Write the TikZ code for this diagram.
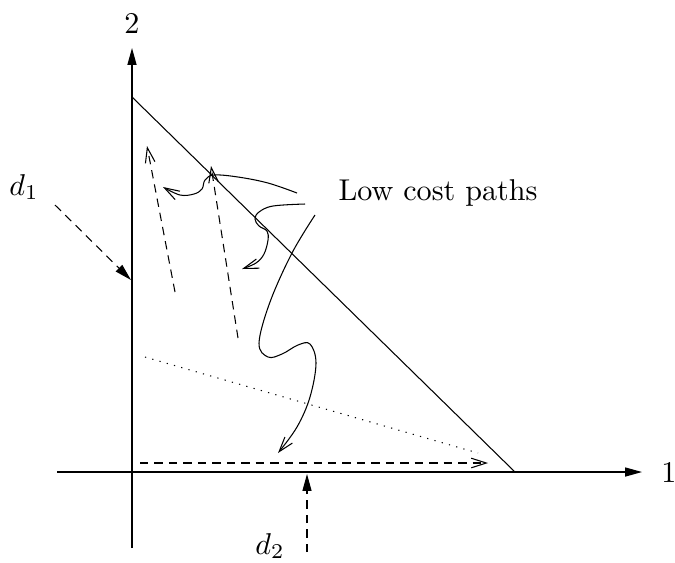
\documentclass[tikz,border=0pt]{standalone}
\usetikzlibrary{arrows.meta}
\begin{document}
\begin{tikzpicture}[x=0.332pt,y=-0.332pt,
  axis/.style={line width=0.4pt,-{Triangle[length=5.6pt,width=3pt]}},
  plain/.style={line width=0.35pt},
  dsh/.style={line width=0.35pt,dash pattern=on 2.8pt off 2pt},
  dot/.style={line width=0.35pt,dash pattern=on 0.4pt off 2.1pt},
  openhead/.style={-{Straight Barb[length=5pt,width=3.2pt,line width=0.35pt]}},
  filledhead/.style={-{Triangle[length=5.6pt,width=3pt]}},
  lbl/.style={inner sep=0pt}]
\useasboundingbox (0,0) rectangle (675,562);
% axes
\coordinate (xs) at (57,472);
\coordinate (xe) at (642,472);
\coordinate (ys) at (132,548);
\coordinate (ye) at (132,48);
\draw[axis] (xs) -- (xe);
\draw[axis] (ys) -- (ye);
\node[lbl] (one) at (669,472) {1};
\node[lbl] (two) at (132,23) {2};
% hypotenuse
\coordinate (ht) at (132,97);
\coordinate (hb) at (515,472);
\draw[plain] (ht) -- (hb);
% disturbances
\node[lbl] (d1) at (24,187) {$d_1$};
\coordinate (d1s) at (55,205);
\coordinate (d1e) at (131,280);
\draw[dsh,filledhead] (d1s) -- (d1e);
\node[lbl] (d2) at (270,546) {$d_2$};
\coordinate (d2s) at (307,552);
\coordinate (d2e) at (307,474);
\draw[dsh,filledhead] (d2s) -- (d2e);
% dotted line
\coordinate (dts) at (145,357);
\coordinate (dte) at (478,453);
\draw[dot] (dts) -- (dte);
% dashed arrows
\coordinate (hs) at (140,463);
\coordinate (he) at (488,463);
\draw[dsh,openhead] (hs) -- (he);
\coordinate (a1s) at (175,292);
\coordinate (a1e) at (147,146);
\draw[dsh,openhead] (a1s) -- (a1e);
\coordinate (a2s) at (238,338);
\coordinate (a2e) at (211,166);
\draw[dsh,openhead] (a2s) -- (a2e);
% low cost paths
\node[lbl] (lcp) at (438,193) {Low cost paths};
\draw[plain,openhead] plot[smooth,tension=0.6] coordinates {(297,193) (268,183) (238,177) (214,175) (205,180) (202,189) (194,194) (180,195) (163,187)};
\draw[plain,openhead] plot[smooth,tension=0.6] coordinates {(305,204) (273,206) (259,212) (255,219) (259,226) (267,231) (268,240) (264,254) (256,263) (242,269)};
\draw[plain,openhead] plot[smooth,tension=0.6] coordinates {(315,215) (292,253) (270,302) (259,343) (268,357) (282,354) (298,345) (310,344) (316,363) (310,397) (297,427) (278,453)};
\end{tikzpicture}
\end{document}
